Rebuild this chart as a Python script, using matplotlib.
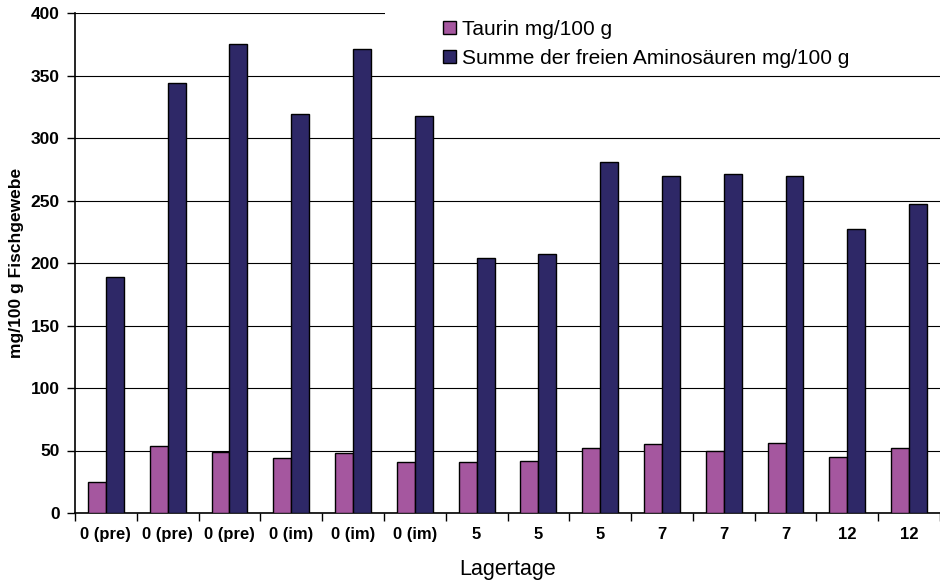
import matplotlib
matplotlib.use("Agg")
import matplotlib.pyplot as plt
import numpy as np
from matplotlib.ticker import FixedLocator, NullFormatter
from matplotlib.patches import Rectangle

plt.rcParams['font.family'] = ['Liberation Sans', 'DejaVu Sans']

categories = ["0 (pre)", "0 (pre)", "0 (pre)", "0 (im)", "0 (im)", "0 (im)",
              "5", "5", "5", "7", "7", "7", "12", "12"]
taurin = [25, 54, 49, 44, 48, 41, 41, 42, 52, 55, 50, 56, 45, 52]
aminosaeuren = [189, 344, 375, 319, 371, 318, 204, 207, 281, 270, 271, 270, 227, 247]
series_labels = ["Taurin mg/100 g", "Summe der freien Aminosäuren mg/100 g"]
y_ticks = [0, 50, 100, 150, 200, 250, 300, 350, 400]

fig = plt.figure(figsize=(9.4, 5.8), dpi=100)
ax = fig.add_axes([75/940, 67/580, 865/940, 500/580])

x = np.arange(len(categories))
w = 0.29
ax.bar(x - w/2, taurin, w, color="#A5579F", edgecolor="black", linewidth=1.0,
       label=series_labels[0], zorder=3)
ax.bar(x + w/2, aminosaeuren, w, color="#2E2867", edgecolor="black", linewidth=1.0,
       label=series_labels[1], zorder=3)

ax.set_xlim(-0.5, len(categories) - 0.5)
ax.set_ylim(0, 400)
ax.set_yticks(y_ticks)
ax.set_yticklabels([str(v) for v in y_ticks], fontsize=12.5, fontweight="bold")
ax.yaxis.grid(True, color="black", linewidth=0.8, zorder=0)
ax.set_axisbelow(True)

ax.set_xticks(x)
ax.set_xticklabels(categories, fontsize=12, fontweight="bold")
ax.tick_params(axis="x", which="major", length=0, pad=10)
ax.xaxis.set_minor_locator(FixedLocator(np.arange(-0.5, len(categories), 1.0)))
ax.xaxis.set_minor_formatter(NullFormatter())
ax.tick_params(axis="x", which="minor", length=6, width=1, color="black")
ax.tick_params(axis="y", length=6, width=1, pad=5)

for s in ["top", "right"]:
    ax.spines[s].set_visible(False)
for s in ["left", "bottom"]:
    ax.spines[s].set_linewidth(1.2)

ax.set_xlabel("Lagertage", fontsize=15.5, labelpad=12)
ax.set_ylabel("mg/100 g Fischgewebe", fontsize=12.5, fontweight="bold")
ax.yaxis.set_label_coords((24 - 75) / 865, 0.5)

# white legend area covering the top gridline
fig.patches.append(Rectangle((385/940, 1 - 72/580), 555/940, 72/580,
                             transform=fig.transFigure, facecolor="white",
                             edgecolor="none", zorder=5))

leg = fig.legend(loc="upper left", bbox_to_anchor=(443/940, 1 - 20/580), fontsize=15,
                 frameon=False, handlelength=0.6, handleheight=0.6,
                 handletextpad=0.3, labelspacing=0.48, borderpad=0,
                 borderaxespad=0)
leg.set_zorder(6)

fig.savefig("out.png", dpi=100, facecolor="white")
